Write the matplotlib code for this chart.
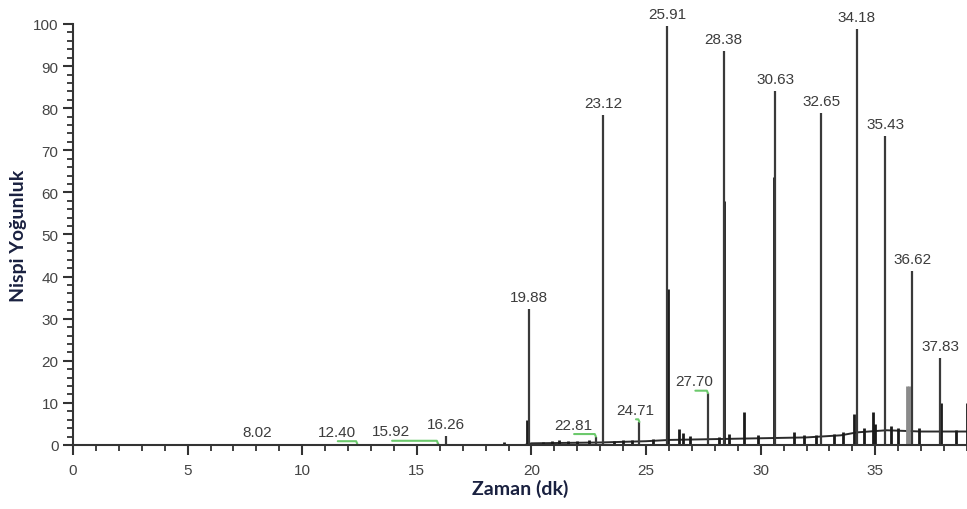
import numpy as np
import matplotlib
matplotlib.use("Agg")
from matplotlib import pyplot as plt
from matplotlib.ticker import MultipleLocator

# labelled peaks: retention time (min) and relative intensity (%)
peak_times = [8.02, 12.40, 15.92, 16.26, 19.88, 22.81, 23.12, 24.71, 25.91,
              27.70, 28.38, 30.63, 32.65, 34.18, 35.43, 36.62, 37.83]
peak_heights = [0.2, 0.3, 0.4, 2.1, 32.3, 2.0, 78.4, 5.5, 99.5,
                12.3, 93.6, 84.0, 78.8, 98.8, 73.4, 41.3, 20.7]
peak_labels = ["8.02", "12.40", "15.92", "16.26", "19.88", "22.81", "23.12", "24.71", "25.91",
               "27.70", "28.38", "30.63", "32.65", "34.18", "35.43", "36.62", "37.83"]

# unlabelled small peaks / shoulders
minor_times = [18.8, 19.80, 20.5, 20.9, 21.2, 21.6, 22.0, 22.5, 23.6, 24.0, 24.4,
               25.3, 25.95, 26.45, 26.6, 26.9, 28.2, 28.42, 28.6, 29.28, 29.9,
               30.58, 31.45, 31.9, 32.4, 33.2, 33.6, 34.08, 34.5, 34.88, 35.0,
               35.7, 36.0, 36.9, 37.88, 38.5, 38.98]
minor_heights = [0.6, 6.0, 0.8, 1.0, 1.2, 0.9, 1.0, 1.1, 1.0, 1.2, 1.3,
                 1.5, 37.0, 3.8, 2.8, 2.2, 2.0, 58.0, 2.5, 7.8, 2.3,
                 63.6, 3.0, 2.4, 2.3, 2.5, 3.0, 7.3, 4.0, 7.8, 5.0,
                 4.5, 4.0, 4.0, 10.0, 3.5, 10.0]
grey_times = [36.40, 36.47]
grey_heights = [14.0, 14.0]

# rising baseline
base_t = [0, 19.7, 20.0, 23.0, 25.0, 26.0, 28.0, 30.0, 32.0, 33.5, 34.2, 35.5, 37.0, 39.0]
base_y = [0.0, 0.0, 0.4, 0.6, 0.9, 1.2, 1.4, 1.6, 1.8, 2.3, 3.0, 3.5, 3.2, 3.2]

# label shifts (minutes) for labels placed left of their peak
label_shift = {"12.40": -0.9, "15.92": -2.05, "22.81": -1.0, "24.71": -0.2, "27.70": -0.6}

fig = plt.figure(figsize=(9.67, 5.10), dpi=100)
ax = fig.add_axes([0.0755, 0.1255, 0.9245, 0.8255])

line_col = "#2b2b2b"
ax.plot(base_t, base_y, color=line_col, lw=1.4)
ax.vlines(minor_times, 0, minor_heights, color="#1a1a1a", lw=2.0)
ax.vlines(grey_times, 0, grey_heights, color="#8a8a8a", lw=2.0)
ax.vlines(peak_times, 0, peak_heights, color="#3a3a3a", lw=1.6)

for t, h, lab in zip(peak_times, peak_heights, peak_labels):
    dx = label_shift.get(lab, 0.0)
    ax.annotate(lab, xy=(t + dx, h), xytext=(0, 3.5), textcoords="offset points",
                ha="center", va="bottom", fontsize=11, color="#3c3c3c",
                family="Liberation Sans", annotation_clip=False)
    if dx != 0:
        ax.plot([t + dx + 0.05, t - 0.05, t], [h + 0.6, h + 0.6, h],
                color="#6cc96c", lw=1.5, solid_capstyle="round")

ax.set_xlim(0, 39)
ax.set_ylim(0, 100)
ax.xaxis.set_major_locator(MultipleLocator(5))
ax.xaxis.set_minor_locator(MultipleLocator(1))
ax.yaxis.set_major_locator(MultipleLocator(10))
ax.yaxis.set_minor_locator(MultipleLocator(2))

for s in ["top", "right"]:
    ax.spines[s].set_visible(False)
for s in ["left", "bottom"]:
    ax.spines[s].set_color("#333333")
    ax.spines[s].set_linewidth(1.5)

ax.tick_params(which="major", length=7, width=1.5, color="#333333",
               labelsize=11, labelcolor="#444444")
ax.tick_params(axis="x", which="major", pad=6)
ax.tick_params(which="minor", length=4.5, width=1.3, color="#333333")
for lbl in ax.get_xticklabels() + ax.get_yticklabels():
    lbl.set_family("Liberation Sans")

ax.set_xlabel("Zaman (dk)", fontsize=14, fontweight="bold", color="#1a2140",
              family="Lato", labelpad=1)
ax.set_ylabel("Nispi Yoğunluk", fontsize=14, fontweight="bold", color="#1a2140",
              family="Lato", labelpad=4)

fig.savefig("out.png", dpi=100)
